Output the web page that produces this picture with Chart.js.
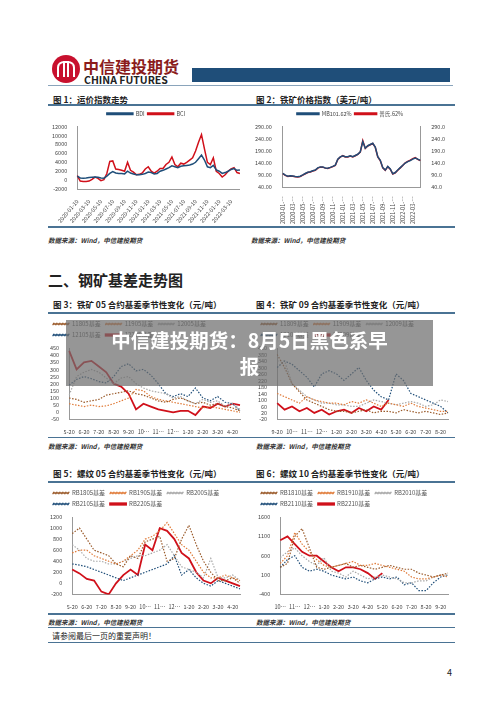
<!DOCTYPE html>
<html><head><meta charset="utf-8">
<script src="https://cdn.jsdelivr.net/npm/chart.js@4/dist/chart.umd.min.js"></script>
<style>
body{margin:0;width:500px;height:707px;background:#fff;position:relative;overflow:hidden;font-family:"Noto Sans CJK SC","Noto Sans",sans-serif;color:#222}
.a{position:absolute}
.t{font-size:8.5px;font-weight:bold;color:#222}
.rule{position:absolute;height:2px;background:#4a7394}
.src{font-size:6.5px;font-style:italic;font-weight:bold;color:#333}
canvas{display:block}
</style></head><body>
<div class="a" style="left:52px;top:55px;width:28px;height:28px;border-radius:50%;background:#c8102e"></div>
<div class="a" style="left:57px;top:61px;width:18px;height:16px;border:2px solid #fff;border-radius:40% 40% 0 0;border-bottom:none;box-sizing:border-box"></div>
<div class="a" style="left:63px;top:61px;width:2px;height:16px;background:#fff"></div><div class="a" style="left:67px;top:61px;width:2px;height:16px;background:#fff"></div>
<div class="a" style="left:83px;top:54px;font-size:16px;font-weight:bold;color:#8b1c1c;letter-spacing:0px">中信建投期货</div>
<div class="a" style="left:84px;top:72px;font-size:10.5px;font-weight:bold;color:#222">CHINA FUTURES</div>
<div class="a" style="left:192px;top:68px;width:258px;height:14px;background:#1f4e79"></div>
<div class="a" style="left:48px;top:85px;width:405px;height:1px;background:#8aa4bb"></div>

<div class="a t" style="left:53px;top:93px">图 1：运价指数走势</div>
<div class="a t" style="left:256px;top:93px">图 2：铁矿价格指数（美元/吨）</div>
<div class="rule" style="left:48px;top:104px;width:407px"></div>
<div class="a" style="left:50px;top:106px;width:196px;height:119px"><canvas id="c1"></canvas></div>
<div class="a" style="left:252px;top:106px;width:200px;height:119px"><canvas id="c2"></canvas></div>
<div class="rule" style="left:48px;top:226px;width:407px"></div>
<div class="a src" style="left:48px;top:235px">数据来源：Wind，中信建投期货</div>
<div class="a src" style="left:251px;top:235px">数据来源：Wind，中信建投期货</div>

<div class="a" style="left:48px;top:269px;font-size:15px;font-weight:bold;color:#222">二、钢矿基差走势图</div>

<div class="a t" style="left:53px;top:298px">图 3：铁矿 05 合约基差季节性变化（元/吨）</div>
<div class="a t" style="left:256px;top:298px">图 4：铁矿 09 合约基差季节性变化（元/吨）</div>
<div class="rule" style="left:48px;top:312px;width:407px"></div>
<div class="a" style="left:48px;top:314px;width:196px;height:122px"><canvas id="c3"></canvas></div>
<div class="a" style="left:256px;top:314px;width:196px;height:122px"><canvas id="c4"></canvas></div>
<div class="rule" style="left:48px;top:437px;width:407px;height:1px"></div>
<div class="a src" style="left:48px;top:441px">数据来源：Wind，中信建投期货</div>
<div class="a src" style="left:256px;top:441px">数据来源：Wind，中信建投期货</div>

<div class="a t" style="left:53px;top:467px">图 5：螺纹 05 合约基差季节性变化（元/吨）</div>
<div class="a t" style="left:256px;top:467px">图 6：螺纹 10 合约基差季节性变化（元/吨）</div>
<div class="rule" style="left:48px;top:481px;width:407px"></div>
<div class="a" style="left:48px;top:483px;width:196px;height:128px"><canvas id="c5"></canvas></div>
<div class="a" style="left:256px;top:483px;width:196px;height:128px"><canvas id="c6"></canvas></div>
<div class="rule" style="left:48px;top:613px;width:407px"></div>
<div class="a src" style="left:48px;top:617px">数据来源：Wind，中信建投期货</div>
<div class="a src" style="left:256px;top:617px">数据来源：Wind，中信建投期货</div>
<div class="rule" style="left:48px;top:627px;width:407px;height:1px"></div>
<div class="a" style="left:52px;top:630px;font-size:8px;color:#222">请参阅最后一页的重要声明！</div>
<div class="rule" style="left:48px;top:642px;width:407px;height:1px"></div>
<div class="a" style="left:447px;top:666px;font-size:9px">4</div>

<div class="a" style="left:66px;top:320px;width:367px;height:66px;background:rgba(110,110,110,0.72);color:#fff;font-weight:bold;font-size:19.5px;text-align:center;line-height:26px;padding-top:7px;box-sizing:border-box">中信建投期货：8月5日黑色系早<br>报</div>

<script>
// ---------- data ----------
const c1Ticks=["2020-01-10","2020-03-10","2020-05-10","2020-07-10","2020-09-10","2020-11-10","2021-01-10","2021-03-10","2021-05-10","2021-07-10","2021-09-10","2021-11-10","2022-01-10","2022-03-10"];
const bdi=[900,500,450,500,600,650,700,650,500,450,900,1500,1900,1600,1500,1500,1400,2000,1600,1400,1200,1200,1300,1500,1800,1700,1400,1500,2000,2200,2500,2800,3200,3000,2800,3100,3200,3300,3400,3600,4000,4800,5600,4500,3000,2800,3300,2300,2000,1500,1700,2000,2400,2600,2200,2300];
const bci=[1000,-200,-300,-300,-200,200,700,400,-100,100,1500,4200,4300,2500,2400,2200,2000,4000,2200,1800,1200,1300,1600,2500,3000,2000,1600,2000,2600,2600,3500,4000,5200,3500,3000,3800,3600,4000,4500,5000,6500,8500,10200,7000,4000,3500,5000,2000,1500,700,1200,2000,2500,2800,1700,1500];
const c2Ticks=["2020-01-…","2020-03-…","2020-05-…","2020-07-…","2020-09-…","2020-11-…","2021-01-…","2021-03-…","2021-05-…","2021-07-…","2021-09-…","2021-11-…","2022-01-…","2022-03-…"];
const mb62=[97,90,86,88,87,85,84,86,91,97,102,104,108,111,120,124,124,120,119,122,126,131,156,165,170,166,166,170,166,171,176,186,228,201,211,216,221,206,166,151,121,111,126,116,96,101,111,121,131,140,146,150,156,160,156,151];
const platts62=[96,89,85,87,86,84,83,85,90,96,101,103,107,110,119,123,123,119,118,121,125,130,155,164,170,165,165,169,165,170,175,185,232,200,210,215,220,205,165,150,120,110,125,115,95,100,110,120,130,141,147,152,158,162,155,150];

const monthTicksA=["5-20","6-20","7-20","8-20","9-20","10…","11…","12…","1-20","2-20","3-20","4-20"];
const monthTicksB=["9-20","10…","11…","12…","1-20","2-20","3-20","4-20","5-20","6-20","7-20","8-20"];
const monthTicksC=["10…","11…","12…","1-20","2-20","3-20","4-20","5-20","6-20","7-20","8-20","9-20"];

const i11805=[100,90,70,80,90,120,130,140,150,130,120,100,80,70,90,100,80,60,70,50,60,40,30,10];
const i11905=[60,50,40,50,40,45,60,80,100,160,150,110,90,80,70,60,50,40,30,40,30,20,10,0];
const i12005=[120,250,280,300,280,240,200,240,250,200,170,150,140,130,100,110,80,60,90,70,80,40,60,20];
const i12105=[190,230,250,235,215,205,250,320,340,290,300,260,200,130,110,130,110,170,100,80,110,70,60,10];
const i12205=[430,300,350,360,320,280,200,180,130,20,60,40,20,10,0,10,10,-20,40,30,60,40,60,50];

const i11809=[380,300,200,150,100,80,60,40,30,30,20,30,40,20,30,30,20,40,30,20,30,20,10,20];
const i11909=[140,120,100,80,120,100,90,80,80,70,90,80,100,80,60,80,70,60,80,60,50,40,30,30];
const i12009=[340,340,200,160,120,100,80,80,70,70,60,60,80,100,90,80,70,80,90,80,60,70,100,90];
const i12109=[300,340,320,280,240,180,260,280,260,220,260,300,220,160,120,100,260,220,140,120,100,80,60,20];
const i12209=[80,40,60,30,50,20,40,10,30,40,20,50,30,60,40,100,null,null,null,null,null,null,null,null];

const rb1805=[900,1000,800,600,550,500,350,300,500,450,750,800,850,400,450,800,1050,700,400,200,50,50,100,0];
const rb1905=[550,600,600,500,450,400,350,400,500,600,800,850,950,1100,900,700,600,400,200,100,100,150,100,50];
const rb2005=[700,600,450,400,400,350,350,400,450,500,500,550,600,700,500,300,250,200,100,450,100,100,150,50];
const rb2105=[350,330,300,250,200,150,100,50,100,150,200,250,300,350,500,150,250,100,0,-50,50,0,-50,-100];
const rb2205=[250,180,80,50,-150,-200,0,150,250,150,700,600,1000,950,800,550,450,200,50,0,100,50,0,-50];

const rb1810=[300,400,1100,1300,800,300,250,300,350,400,300,350,300,250,300,350,300,250,250,150,100,50,100,150];
const rb1910=[400,600,1200,900,700,500,350,300,350,400,450,350,350,400,350,300,250,200,50,0,0,50,100,50];
const rb2010=[550,700,800,600,450,350,550,200,150,50,200,100,0,50,100,50,0,-100,-100,-50,-50,50,100,100];
const rb2110=[300,500,600,300,200,250,200,100,50,0,50,-50,-100,0,50,0,50,-150,-100,-300,-300,-100,50,100];
const rb2210=[1000,1100,900,700,600,600,450,300,200,300,300,250,150,0,150,null,null,null,null,null,null,null,null,null];

// ---------- helpers ----------
const F="'Noto Sans CJK SC','Noto Sans',sans-serif";
Chart.defaults.font.family=F;Chart.defaults.color="#444";Chart.defaults.animation=false;
const BROWN="#9a5a2a",ORANGE="#e07b39",GREY="#a8a8a8",BLUE="#1f4e79",RED="#d0101a";
function lbl(ticks,n,step){return Array.from({length:n},(_,i)=>i%step===0?ticks[i/step]:"");}
function dot(label,data,color){return {label,data,borderColor:color,backgroundColor:color,borderWidth:1.2,borderDash:[1.5,1.5],pointRadius:0,tension:0,spanGaps:false};}
function solid(label,data,color,w){return {label,data,borderColor:color,backgroundColor:color,borderWidth:w||1.8,pointRadius:0,tension:0};}
function legend(){return {display:true,position:'top',align:'start',labels:{boxWidth:16,boxHeight:1.5,padding:5,font:{size:6},color:'#555'}};}
function yAx(min,max,step,extra){return Object.assign({min,max,ticks:{stepSize:step,autoSkip:false,font:{size:5.5},color:'#444',padding:2,callback:v=>String(v)},grid:{display:false},border:{color:'#999'}},extra||{});}
function xAx(rot){return {ticks:{autoSkip:false,maxRotation:rot,minRotation:rot,font:{size:5.5},color:'#444',padding:1},grid:{display:false},border:{color:'#999'}};}
function mk(id,labels,datasets,scales,leg){new Chart(document.getElementById(id),{type:'line',data:{labels,datasets},options:{responsive:true,maintainAspectRatio:false,layout:{padding:{top:2,right:4}},plugins:{legend:leg,tooltip:{enabled:false}},scales}});}

// chart 1
mk('c1',lbl(c1Ticks,56,4),[solid('BDI',bdi,BLUE,1.5),solid('BCI',bci,RED,1.5)],
 {x:xAx(50),y:yAx(-2000,12000,2000)},{display:true,position:'top',align:'center',labels:{boxWidth:26,boxHeight:1.5,padding:3,font:{size:5.5}}});
// chart 2
mk('c2',lbl(c2Ticks,56,4),[solid('MB101.62%',mb62,BLUE,1.5),solid('普氏.62%',platts62,RED,1.5)],
 {x:xAx(90),y:yAx(40,290,50,{ticks:{stepSize:50,autoSkip:false,font:{size:5.5},callback:v=>v.toFixed(2)}}),
  y2:yAx(40,290,50,{position:'right',ticks:{stepSize:50,autoSkip:false,font:{size:5.5},callback:v=>v.toFixed(1)}})},
 {display:true,position:'top',align:'center',labels:{boxWidth:22,boxHeight:1.5,padding:3,font:{size:5.5}}});
// chart 3
mk('c3',lbl(monthTicksA,24,2),[dot('11805基差',i11805,BROWN),dot('11905基差',i11905,ORANGE),dot('12005基差',i12005,GREY),dot('12105基差',i12105,BLUE),solid('12205基差',i12205,RED)],
 {x:xAx(0),y:yAx(-50,450,50)},legend());
// chart 4
mk('c4',lbl(monthTicksB,24,2),[dot('11809基差',i11809,BROWN),dot('11909基差',i11909,ORANGE),dot('12009基差',i12009,GREY),dot('12109基差',i12109,BLUE),solid('12209基差',i12209,RED)],
 {x:xAx(0),y:yAx(-20,420,40)},legend());
// chart 5
mk('c5',lbl(monthTicksA,24,2),[dot('RB1805基差',rb1805,BROWN),dot('RB1905基差',rb1905,ORANGE),dot('RB2005基差',rb2005,GREY),dot('RB2105基差',rb2105,BLUE),solid('RB2205基差',rb2205,RED)],
 {x:xAx(0),y:yAx(-200,1200,200)},legend());
// chart 6
mk('c6',lbl(monthTicksC,24,2),[dot('RB1810基差',rb1810,BROWN),dot('RB1910基差',rb1910,ORANGE),dot('RB2010基差',rb2010,GREY),dot('RB2110基差',rb2110,BLUE),solid('RB2210基差',rb2210,RED)],
 {x:xAx(0),y:yAx(-400,1600,500)},legend());
</script>
</body></html>
